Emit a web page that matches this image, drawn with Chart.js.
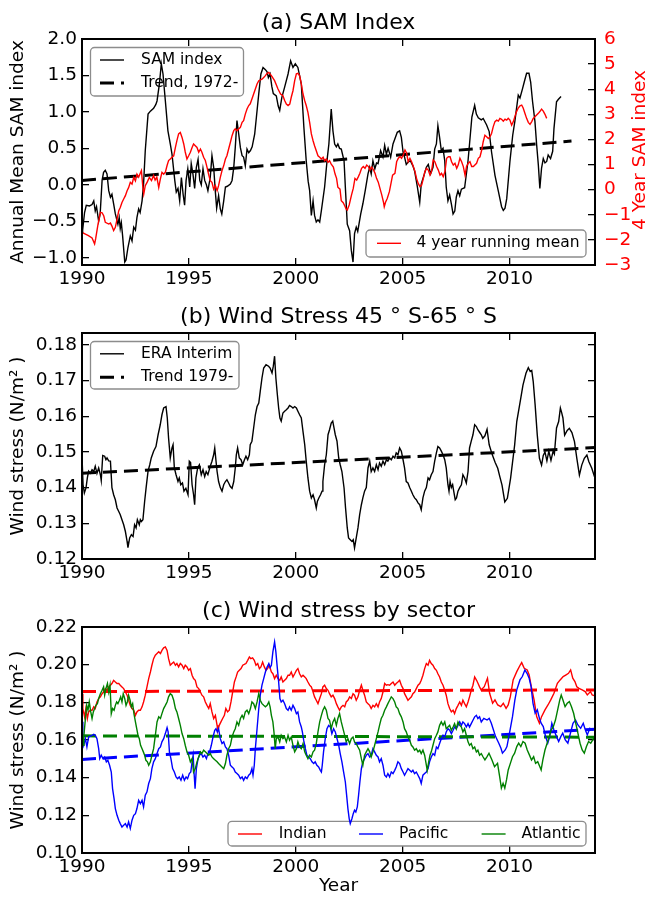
<!DOCTYPE html>
<html><head><meta charset="utf-8">
<script src="https://cdn.jsdelivr.net/npm/chart.js@4/dist/chart.umd.min.js"></script>
<style>
html,body{margin:0;padding:0;background:#fff;}
body{width:647px;height:898px;position:relative;overflow:hidden;}
canvas{position:absolute;left:0;}
</style></head><body>
<canvas id="ca" width="647" height="294" style="top:0px"></canvas>
<canvas id="cb" width="647" height="294" style="top:294px"></canvas>
<canvas id="cc" width="647" height="310" style="top:588px"></canvas>
<script>
// ---------------- DATA ----------------
const xTickYears = [1990, 1995, 2000, 2005, 2010];
const samLeftTicks = [-1.0, -0.5, 0.0, 0.5, 1.0, 1.5, 2.0];
const samRightTicks = [-3, -2, -1, 0, 1, 2, 3, 4, 5, 6];
const windTicks = [0.12, 0.13, 0.14, 0.15, 0.16, 0.17, 0.18];
const sectorTicks = [0.10, 0.12, 0.14, 0.16, 0.18, 0.20, 0.22];

// (a) SAM index, annual mean (year, value)
const samIndex = [[1990.00,-0.65],[1990.03,-0.62],[1990.12,-0.38],[1990.2,-0.28],[1990.35,-0.29],[1990.47,-0.27],[1990.55,-0.22],[1990.62,-0.36],[1990.68,-0.30],[1990.78,-0.50],[1990.85,-0.40],[1990.94,0.06],[1991.01,0.17],[1991.09,0.20],[1991.17,0.15],[1991.25,-0.08],[1991.33,-0.17],[1991.4,-0.13],[1991.48,-0.26],[1991.56,-0.40],[1991.68,-0.54],[1991.74,-0.45],[1991.79,-0.60],[1991.84,-0.52],[1991.9,-0.70],[1992.0,-1.06],[1992.06,-1.03],[1992.15,-0.86],[1992.26,-0.70],[1992.34,-0.77],[1992.42,-0.58],[1992.5,-0.62],[1992.57,-0.45],[1992.65,-0.33],[1992.72,-0.38],[1992.81,-0.22],[1992.88,0.01],[1992.96,0.47],[1993.09,0.97],[1993.2,1.01],[1993.35,1.05],[1993.45,1.10],[1993.51,1.15],[1993.62,1.38],[1993.71,1.66],[1993.79,1.52],[1993.9,1.15],[1994.02,0.74],[1994.13,0.56],[1994.21,0.42],[1994.34,0.06],[1994.41,-0.10],[1994.49,-0.05],[1994.57,-0.22],[1994.65,0.10],[1994.73,-0.13],[1994.8,-0.28],[1994.87,0.06],[1994.95,0.22],[1995.04,-0.03],[1995.11,0.29],[1995.19,0.15],[1995.27,-0.05],[1995.35,0.24],[1995.43,0.35],[1995.51,0.06],[1995.58,0.00],[1995.66,0.22],[1995.74,0.06],[1995.82,0.00],[1995.89,-0.08],[1996.0,0.10],[1996.08,0.40],[1996.16,0.24],[1996.24,-0.10],[1996.3,-0.32],[1996.39,-0.15],[1996.47,-0.33],[1996.54,-0.40],[1996.63,-0.22],[1996.71,-0.03],[1996.8,-0.02],[1996.94,0.01],[1997.02,0.06],[1997.1,0.24],[1997.17,0.51],[1997.25,0.88],[1997.33,0.70],[1997.41,0.51],[1997.49,0.40],[1997.56,0.38],[1997.64,0.26],[1997.72,0.49],[1997.8,0.44],[1997.88,0.47],[1997.96,0.52],[1998.08,0.70],[1998.16,0.93],[1998.27,1.25],[1998.37,1.52],[1998.47,1.61],[1998.58,1.58],[1998.66,1.55],[1998.72,1.47],[1998.8,1.52],[1998.88,1.35],[1998.95,1.25],[1999.09,1.22],[1999.18,1.08],[1999.25,1.02],[1999.35,1.20],[1999.48,1.34],[1999.64,1.52],[1999.76,1.70],[1999.87,1.61],[1999.98,1.66],[2000.10,1.61],[2000.26,1.38],[2000.38,0.79],[2000.49,0.33],[2000.58,0.05],[2000.65,-0.08],[2000.73,-0.42],[2000.81,-0.22],[2000.88,-0.42],[2000.96,-0.51],[2001.04,-0.48],[2001.12,-0.51],[2001.2,-0.35],[2001.35,-0.03],[2001.48,0.38],[2001.55,0.56],[2001.66,1.04],[2001.74,0.74],[2001.82,0.56],[2001.9,0.52],[2001.97,0.56],[2002.05,0.50],[2002.13,0.49],[2002.26,0.33],[2002.32,-0.03],[2002.41,-0.54],[2002.52,-0.63],[2002.6,-0.90],[2002.68,-1.06],[2002.75,-0.67],[2002.83,-0.58],[2002.9,-0.64],[2003.04,-0.40],[2003.14,-0.26],[2003.25,-0.08],[2003.38,0.15],[2003.46,0.24],[2003.53,0.15],[2003.61,0.33],[2003.7,0.22],[2003.78,0.30],[2003.85,0.29],[2003.97,0.47],[2004.08,0.38],[2004.16,0.54],[2004.24,0.42],[2004.32,0.50],[2004.44,0.38],[2004.55,0.56],[2004.66,0.65],[2004.75,0.72],[2004.86,0.74],[2004.94,0.65],[2005.02,0.45],[2005.09,0.38],[2005.17,0.28],[2005.25,0.31],[2005.36,0.33],[2005.48,0.26],[2005.56,0.19],[2005.69,-0.03],[2005.8,-0.24],[2005.87,0.01],[2006.0,0.13],[2006.11,0.24],[2006.2,0.28],[2006.31,0.15],[2006.42,0.24],[2006.5,0.49],[2006.58,0.56],[2006.65,0.81],[2006.73,0.65],[2006.81,0.47],[2006.89,0.50],[2006.97,0.33],[2007.04,-0.03],[2007.12,-0.22],[2007.2,-0.14],[2007.28,-0.26],[2007.36,-0.40],[2007.44,-0.36],[2007.51,-0.17],[2007.59,-0.08],[2007.67,-0.15],[2007.75,-0.06],[2007.9,-0.04],[2008.06,0.33],[2008.13,0.56],[2008.24,0.93],[2008.37,1.09],[2008.45,0.97],[2008.54,0.92],[2008.68,0.89],[2008.77,0.91],[2008.93,0.82],[2009.05,0.73],[2009.16,0.45],[2009.32,0.13],[2009.48,-0.09],[2009.63,-0.30],[2009.71,-0.35],[2009.79,-0.32],[2009.87,-0.19],[2010.02,0.32],[2010.15,0.68],[2010.25,0.87],[2010.41,1.23],[2010.49,1.19],[2010.61,1.32],[2010.69,1.41],[2010.8,1.53],[2010.91,1.53],[2010.99,1.41],[2011.08,1.14],[2011.19,0.87],[2011.27,0.55],[2011.35,0.27],[2011.42,-0.05],[2011.5,0.23],[2011.58,0.36],[2011.66,0.30],[2011.74,0.32],[2011.81,0.41],[2011.92,0.36],[2012.02,0.46],[2012.08,0.77],[2012.2,1.14],[2012.28,1.17],[2012.41,1.21]];

// (a) 4 year running mean (right axis units)
const samRunningMean = [[1990.0,-1.70],[1990.16,-1.77],[1990.3,-1.83],[1990.47,-1.92],[1990.59,-2.16],[1990.64,-1.95],[1990.75,-1.37],[1990.86,-0.90],[1990.94,-0.92],[1991.02,-1.05],[1991.09,-1.30],[1991.25,-1.37],[1991.33,-1.33],[1991.40,-1.45],[1991.48,-1.63],[1991.56,-1.50],[1991.64,-1.17],[1991.72,-0.84],[1991.79,-0.71],[1991.87,-0.51],[1991.95,-0.37],[1992.03,-0.24],[1992.11,-0.04],[1992.18,0.08],[1992.26,0.29],[1992.34,0.22],[1992.42,0.49],[1992.5,0.35],[1992.57,0.62],[1992.65,0.50],[1992.78,0.76],[1992.84,0.16],[1992.89,-0.17],[1992.96,0.16],[1993.05,0.30],[1993.15,0.49],[1993.25,0.36],[1993.35,0.56],[1993.42,0.38],[1993.5,0.50],[1993.59,0.09],[1993.66,0.40],[1993.74,0.69],[1993.82,0.62],[1993.9,0.70],[1993.98,0.96],[1994.05,1.16],[1994.13,1.22],[1994.21,1.29],[1994.29,1.35],[1994.37,1.68],[1994.44,1.95],[1994.52,2.22],[1994.6,2.28],[1994.68,2.08],[1994.76,1.82],[1994.83,1.50],[1994.91,1.22],[1994.99,1.35],[1995.07,1.49],[1995.15,1.68],[1995.22,1.82],[1995.3,1.75],[1995.38,1.68],[1995.46,1.49],[1995.54,1.62],[1995.61,1.49],[1995.69,1.29],[1995.77,1.16],[1995.85,0.89],[1995.92,0.62],[1996.0,0.36],[1996.08,0.29],[1996.16,0.02],[1996.24,0.16],[1996.32,-0.04],[1996.39,0.16],[1996.47,0.49],[1996.55,0.76],[1996.63,0.96],[1996.71,1.22],[1996.78,1.35],[1996.86,1.62],[1996.94,1.88],[1997.02,2.15],[1997.1,2.35],[1997.17,2.42],[1997.25,2.35],[1997.33,2.42],[1997.41,2.48],[1997.49,2.68],[1997.56,2.75],[1997.64,3.01],[1997.72,3.21],[1997.8,3.35],[1997.87,3.42],[1997.95,3.61],[1998.03,3.81],[1998.11,4.01],[1998.19,4.21],[1998.27,4.34],[1998.35,4.37],[1998.42,4.40],[1998.5,4.47],[1998.58,4.54],[1998.66,4.63],[1998.74,4.67],[1998.86,4.54],[1999.01,4.34],[1999.17,4.01],[1999.29,3.81],[1999.4,3.74],[1999.48,3.55],[1999.56,3.41],[1999.64,3.35],[1999.72,3.41],[1999.79,3.68],[1999.87,3.94],[1999.95,4.34],[2000.03,4.61],[2000.1,4.63],[2000.18,4.54],[2000.26,4.21],[2000.34,3.81],[2000.42,3.54],[2000.49,3.35],[2000.57,3.08],[2000.65,2.68],[2000.73,2.22],[2000.81,1.95],[2000.88,1.75],[2000.96,1.55],[2001.04,1.35],[2001.12,1.29],[2001.2,1.22],[2001.28,1.29],[2001.35,1.15],[2001.43,1.22],[2001.51,1.09],[2001.58,1.15],[2001.66,1.02],[2001.76,0.90],[2001.84,0.62],[2001.91,0.45],[2001.97,0.10],[2002.07,0.02],[2002.13,-0.44],[2002.22,-0.52],[2002.29,-0.64],[2002.36,-0.77],[2002.41,-0.81],[2002.5,-0.61],[2002.61,-0.21],[2002.69,0.05],[2002.77,0.45],[2002.85,0.38],[2002.93,0.52],[2003.0,0.65],[2003.08,0.85],[2003.16,0.92],[2003.24,0.85],[2003.32,0.98],[2003.4,0.92],[2003.47,0.78],[2003.55,0.90],[2003.63,0.80],[2003.71,0.65],[2003.78,0.45],[2003.86,0.30],[2003.94,0.05],[2004.02,-0.20],[2004.1,-0.48],[2004.14,-0.68],[2004.2,-0.50],[2004.28,-0.35],[2004.38,-0.08],[2004.44,0.18],[2004.53,0.58],[2004.64,0.65],[2004.72,1.11],[2004.8,1.25],[2004.88,1.32],[2004.95,1.25],[2005.03,1.38],[2005.11,1.58],[2005.19,1.45],[2005.26,1.11],[2005.34,1.25],[2005.42,1.11],[2005.5,0.92],[2005.58,0.72],[2005.65,0.45],[2005.73,0.25],[2005.81,0.12],[2005.89,0.18],[2005.97,0.45],[2006.04,0.72],[2006.12,0.85],[2006.2,0.78],[2006.28,0.58],[2006.35,0.72],[2006.43,1.18],[2006.51,1.11],[2006.59,0.92],[2006.67,0.78],[2006.75,0.58],[2006.82,0.65],[2006.9,0.52],[2006.98,0.72],[2007.06,1.25],[2007.14,1.31],[2007.22,1.31],[2007.29,1.11],[2007.37,0.98],[2007.45,1.05],[2007.53,0.85],[2007.6,0.98],[2007.68,1.25],[2007.76,1.11],[2007.84,0.92],[2007.92,0.58],[2007.99,0.92],[2008.07,1.05],[2008.15,1.11],[2008.23,0.92],[2008.31,0.92],[2008.38,0.98],[2008.46,1.05],[2008.54,1.25],[2008.62,1.31],[2008.7,1.58],[2008.77,1.91],[2008.85,2.17],[2008.93,2.11],[2009.01,2.04],[2009.09,2.11],[2009.16,2.24],[2009.24,2.51],[2009.32,2.71],[2009.4,2.77],[2009.48,2.73],[2009.55,2.84],[2009.63,2.80],[2009.71,2.73],[2009.79,2.81],[2009.87,2.77],[2009.94,2.84],[2010.02,2.77],[2010.1,2.57],[2010.18,2.71],[2010.25,2.91],[2010.33,3.11],[2010.41,3.25],[2010.49,3.34],[2010.57,3.37],[2010.64,3.25],[2010.72,3.04],[2010.8,2.84],[2010.88,2.68],[2010.96,2.60],[2011.04,2.71],[2011.11,2.84],[2011.19,2.90],[2011.27,2.97],[2011.35,3.04],[2011.42,3.11],[2011.5,3.21],[2011.58,3.13],[2011.66,3.00],[2011.74,2.84]];

// (a) trend 1972- (end points)
const samTrend = [[1990.0,0.06],[2012.9,0.60]];

// (b) ERA Interim wind stress 45S-65S
const eraInterim = [[1990.0,0.1488],[1990.05,0.1408],[1990.11,0.1385],[1990.19,0.1400],[1990.25,0.1427],[1990.31,0.1446],[1990.39,0.1440],[1990.47,0.1450],[1990.55,0.1445],[1990.62,0.1460],[1990.7,0.1440],[1990.78,0.1455],[1990.86,0.1436],[1990.9,0.1420],[1990.97,0.1490],[1991.06,0.1488],[1991.12,0.1478],[1991.17,0.1483],[1991.25,0.1475],[1991.33,0.1474],[1991.4,0.1400],[1991.48,0.1380],[1991.56,0.1366],[1991.64,0.1343],[1991.72,0.1333],[1991.79,0.1324],[1991.87,0.1310],[1991.95,0.1296],[1992.03,0.1277],[1992.11,0.1249],[1992.15,0.1232],[1992.23,0.1259],[1992.31,0.1268],[1992.39,0.1263],[1992.46,0.1296],[1992.53,0.1287],[1992.59,0.1310],[1992.68,0.1296],[1992.73,0.1310],[1992.78,0.1305],[1992.85,0.1310],[1992.93,0.1361],[1993.0,0.1400],[1993.09,0.1446],[1993.17,0.1464],[1993.24,0.1483],[1993.35,0.1502],[1993.46,0.1515],[1993.56,0.1548],[1993.66,0.1576],[1993.74,0.1604],[1993.82,0.1623],[1993.93,0.1627],[1993.99,0.1595],[1994.05,0.1539],[1994.13,0.1483],[1994.21,0.1511],[1994.26,0.1520],[1994.32,0.1455],[1994.4,0.1436],[1994.49,0.1417],[1994.55,0.1427],[1994.62,0.1408],[1994.7,0.1413],[1994.77,0.1390],[1994.86,0.1398],[1994.96,0.1380],[1995.02,0.1474],[1995.08,0.1470],[1995.15,0.1408],[1995.22,0.1380],[1995.27,0.1352],[1995.33,0.1427],[1995.41,0.1455],[1995.49,0.1464],[1995.58,0.1436],[1995.66,0.1450],[1995.74,0.1431],[1995.81,0.1445],[1995.89,0.1436],[1996.0,0.1460],[1996.08,0.1474],[1996.16,0.1492],[1996.21,0.1511],[1996.27,0.1474],[1996.32,0.1445],[1996.39,0.1417],[1996.47,0.1400],[1996.55,0.1390],[1996.63,0.1408],[1996.71,0.1417],[1996.78,0.1422],[1996.86,0.1413],[1996.94,0.1403],[1997.02,0.1398],[1997.1,0.1417],[1997.17,0.1455],[1997.22,0.1492],[1997.28,0.1511],[1997.36,0.1483],[1997.44,0.1478],[1997.52,0.1464],[1997.6,0.1478],[1997.67,0.1488],[1997.75,0.1478],[1997.83,0.1492],[1997.87,0.1520],[1997.95,0.1530],[1998.03,0.1567],[1998.11,0.1604],[1998.19,0.1627],[1998.27,0.1637],[1998.34,0.1670],[1998.42,0.1707],[1998.5,0.1735],[1998.61,0.1744],[1998.73,0.1740],[1998.8,0.1735],[1998.89,0.1721],[1998.95,0.1740],[1999.01,0.1768],[1999.07,0.1707],[1999.14,0.1660],[1999.2,0.1623],[1999.26,0.1595],[1999.32,0.1586],[1999.4,0.1609],[1999.48,0.1614],[1999.56,0.1618],[1999.64,0.1623],[1999.71,0.1630],[1999.79,0.1627],[1999.87,0.1623],[1999.95,0.1627],[2000.03,0.1623],[2000.1,0.1614],[2000.18,0.1604],[2000.26,0.1595],[2000.34,0.1557],[2000.42,0.1520],[2000.49,0.1474],[2000.57,0.1427],[2000.65,0.1390],[2000.73,0.1371],[2000.81,0.1380],[2000.88,0.1366],[2000.96,0.1343],[2001.01,0.1361],[2001.08,0.1371],[2001.16,0.1380],[2001.23,0.1390],[2001.27,0.1417],[2001.35,0.1464],[2001.43,0.1492],[2001.51,0.1548],[2001.58,0.1562],[2001.66,0.1581],[2001.73,0.1586],[2001.79,0.1567],[2001.85,0.1548],[2001.93,0.1530],[2002.01,0.1483],[2002.08,0.1464],[2002.16,0.1445],[2002.26,0.1399],[2002.33,0.1343],[2002.41,0.1287],[2002.47,0.1259],[2002.55,0.1254],[2002.63,0.1249],[2002.69,0.1254],[2002.75,0.1231],[2002.83,0.1259],[2002.91,0.1287],[2002.99,0.1324],[2003.07,0.1352],[2003.14,0.1371],[2003.22,0.1390],[2003.3,0.1400],[2003.38,0.1455],[2003.46,0.1474],[2003.53,0.1445],[2003.61,0.1455],[2003.69,0.1445],[2003.77,0.1464],[2003.85,0.1450],[2003.92,0.1469],[2004.0,0.1460],[2004.08,0.1474],[2004.16,0.1464],[2004.24,0.1478],[2004.31,0.1474],[2004.39,0.1483],[2004.47,0.1478],[2004.55,0.1488],[2004.63,0.1483],[2004.7,0.1497],[2004.78,0.1492],[2004.86,0.1511],[2004.94,0.1502],[2005.02,0.1478],[2005.09,0.1455],[2005.17,0.1417],[2005.25,0.1413],[2005.33,0.1400],[2005.41,0.1390],[2005.48,0.1380],[2005.56,0.1371],[2005.64,0.1366],[2005.72,0.1357],[2005.8,0.1352],[2005.87,0.1338],[2005.95,0.1371],[2006.03,0.1390],[2006.11,0.1400],[2006.19,0.1427],[2006.26,0.1422],[2006.34,0.1436],[2006.42,0.1445],[2006.5,0.1474],[2006.58,0.1497],[2006.65,0.1515],[2006.73,0.1511],[2006.81,0.1502],[2006.89,0.1492],[2006.97,0.1478],[2007.04,0.1455],[2007.12,0.1408],[2007.17,0.1390],[2007.22,0.1417],[2007.28,0.1400],[2007.34,0.1408],[2007.39,0.1390],[2007.46,0.1366],[2007.52,0.1371],[2007.59,0.1390],[2007.67,0.1400],[2007.75,0.1408],[2007.82,0.1436],[2007.9,0.1427],[2007.98,0.1413],[2008.06,0.1445],[2008.13,0.1511],[2008.21,0.1530],[2008.29,0.1548],[2008.37,0.1576],[2008.45,0.1571],[2008.52,0.1562],[2008.6,0.1555],[2008.68,0.1548],[2008.75,0.1538],[2008.85,0.1545],[2008.95,0.1563],[2009.05,0.1520],[2009.2,0.1491],[2009.33,0.1470],[2009.45,0.1454],[2009.55,0.1430],[2009.65,0.1407],[2009.78,0.1360],[2009.9,0.1370],[2010.05,0.1426],[2010.24,0.1519],[2010.34,0.1585],[2010.5,0.1641],[2010.63,0.1687],[2010.77,0.1720],[2010.88,0.1736],[2010.97,0.1725],[2011.04,0.1728],[2011.11,0.1697],[2011.2,0.1631],[2011.3,0.1547],[2011.4,0.1482],[2011.5,0.1463],[2011.58,0.1490],[2011.66,0.1500],[2011.75,0.1475],[2011.84,0.1502],[2011.94,0.1476],[2012.04,0.1502],[2012.1,0.1494],[2012.2,0.1567],[2012.3,0.1585],[2012.38,0.1623],[2012.44,0.1610],[2012.5,0.1595],[2012.58,0.1547],[2012.7,0.1560],[2012.8,0.1566],[2012.92,0.1554],[2013.04,0.1529],[2013.15,0.1482],[2013.27,0.1435],[2013.38,0.1463],[2013.5,0.1482],[2013.62,0.1491],[2013.71,0.1473],[2013.85,0.1454],[2014.0,0.1426]];
const eraTrend = [[1990.0,0.1440],[2014.0,0.1512]];

// (c) wind stress by sector
const indianStress = [[1990.0,.1846],[1990.04,.1767],[1990.12,.1723],[1990.18,.1767],[1990.25,.1714],[1990.31,.1749],[1990.39,.1758],[1990.47,.1758],[1990.55,.1776],[1990.62,.1767],[1990.7,.1802],[1990.78,.1820],[1990.86,.1829],[1990.94,.1846],[1991.01,.1855],[1991.09,.1873],[1991.17,.1864],[1991.25,.1882],[1991.33,.1891],[1991.4,.1900],[1991.48,.1917],[1991.56,.1908],[1991.64,.1900],[1991.72,.1900],[1991.79,.1891],[1991.87,.1882],[1991.95,.1873],[1992.03,.1855],[1992.11,.1838],[1992.18,.1811],[1992.26,.1784],[1992.34,.1767],[1992.42,.1758],[1992.5,.1731],[1992.57,.1749],[1992.65,.1758],[1992.73,.1758],[1992.81,.1776],[1992.88,.1802],[1992.96,.1838],[1993.04,.1882],[1993.12,.1926],[1993.2,.1961],[1993.27,.1997],[1993.35,.2032],[1993.43,.2050],[1993.51,.2059],[1993.59,.2068],[1993.67,.2059],[1993.74,.2076],[1993.82,.2089],[1993.9,.2094],[1993.98,.2076],[1994.05,.2032],[1994.13,.1997],[1994.21,.2006],[1994.29,.2014],[1994.37,.1997],[1994.44,.2006],[1994.52,.1988],[1994.6,.2006],[1994.68,.1997],[1994.76,.1979],[1994.83,.1997],[1994.91,.1988],[1994.99,.1970],[1995.07,.1979],[1995.15,.1944],[1995.22,.1926],[1995.3,.1917],[1995.38,.1882],[1995.46,.1873],[1995.54,.1855],[1995.61,.1838],[1995.69,.1829],[1995.77,.1802],[1995.85,.1784],[1995.93,.1767],[1996.0,.1793],[1996.08,.1749],[1996.16,.1714],[1996.24,.1731],[1996.32,.1678],[1996.36,.1652],[1996.42,.1678],[1996.5,.1696],[1996.58,.1714],[1996.66,.1731],[1996.73,.1767],[1996.81,.1749],[1996.89,.1758],[1996.97,.1802],[1997.05,.1855],[1997.13,.1908],[1997.21,.1935],[1997.28,.1961],[1997.36,.1970],[1997.44,.1979],[1997.52,.1997],[1997.59,.2001],[1997.67,.2006],[1997.75,.2023],[1997.83,.2041],[1997.9,.2032],[1997.98,.2036],[1998.06,.2023],[1998.14,.1997],[1998.22,.2006],[1998.3,.1979],[1998.37,.1988],[1998.45,.2014],[1998.53,.1988],[1998.61,.1970],[1998.68,.1979],[1998.76,.1997],[1998.86,.1961],[1998.93,.1952],[1999.01,.1926],[1999.09,.1944],[1999.17,.1926],[1999.25,.1917],[1999.32,.1935],[1999.4,.1908],[1999.48,.1917],[1999.56,.1926],[1999.64,.1944],[1999.71,.1944],[1999.79,.1961],[1999.87,.1935],[1999.95,.1952],[2000.03,.1970],[2000.1,.1979],[2000.18,.1952],[2000.26,.1935],[2000.34,.1944],[2000.42,.1935],[2000.49,.1926],[2000.57,.1908],[2000.65,.1891],[2000.73,.1882],[2000.81,.1855],[2000.88,.1829],[2000.96,.1811],[2001.04,.1793],[2001.12,.1820],[2001.2,.1846],[2001.27,.1882],[2001.35,.1891],[2001.43,.1873],[2001.51,.1864],[2001.58,.1846],[2001.66,.1829],[2001.74,.1838],[2001.82,.1820],[2001.9,.1793],[2001.97,.1776],[2002.05,.1758],[2002.13,.1776],[2002.21,.1784],[2002.29,.1776],[2002.36,.1802],[2002.44,.1811],[2002.52,.1829],[2002.6,.1820],[2002.68,.1846],[2002.75,.1838],[2002.83,.1811],[2002.91,.1829],[2002.99,.1864],[2003.07,.1891],[2003.14,.1864],[2003.22,.1838],[2003.3,.1802],[2003.38,.1793],[2003.46,.1784],[2003.53,.1767],[2003.61,.1784],[2003.69,.1776],[2003.77,.1793],[2003.85,.1776],[2003.92,.1802],[2004.0,.1820],[2004.08,.1855],[2004.16,.1900],[2004.24,.1891],[2004.31,.1894],[2004.39,.1891],[2004.47,.1900],[2004.55,.1908],[2004.63,.1891],[2004.7,.1900],[2004.78,.1908],[2004.86,.1917],[2004.94,.1891],[2005.02,.1873],[2005.09,.1846],[2005.17,.1829],[2005.25,.1811],[2005.33,.1820],[2005.41,.1829],[2005.48,.1846],[2005.56,.1855],[2005.64,.1873],[2005.72,.1891],[2005.8,.1900],[2005.87,.1917],[2005.95,.1944],[2006.03,.1979],[2006.11,.2006],[2006.19,.1997],[2006.26,.2023],[2006.34,.2006],[2006.42,.1997],[2006.5,.1979],[2006.58,.1970],[2006.65,.1952],[2006.73,.1935],[2006.81,.1908],[2006.89,.1891],[2006.97,.1864],[2007.04,.1838],[2007.12,.1793],[2007.2,.1767],[2007.28,.1749],[2007.36,.1758],[2007.43,.1740],[2007.51,.1767],[2007.59,.1784],[2007.67,.1802],[2007.75,.1784],[2007.82,.1811],[2007.9,.1793],[2007.98,.1776],[2008.06,.1802],[2008.13,.1829],[2008.21,.1864],[2008.29,.1891],[2008.37,.1935],[2008.46,.1917],[2008.53,.1900],[2008.6,.1882],[2008.67,.1866],[2008.82,.1883],[2008.97,.1928],[2009.07,.1848],[2009.21,.1795],[2009.32,.1813],[2009.45,.1786],[2009.59,.1777],[2009.71,.1795],[2009.84,.1768],[2009.94,.1786],[2010.04,.1830],[2010.17,.1919],[2010.34,.1963],[2010.5,.1998],[2010.57,.2011],[2010.69,.1981],[2010.83,.1972],[2010.92,.1945],[2011.02,.1883],[2011.15,.1813],[2011.27,.1724],[2011.4,.1689],[2011.5,.1724],[2011.66,.1760],[2011.8,.1786],[2011.93,.1813],[2012.08,.1848],[2012.24,.1901],[2012.37,.1919],[2012.51,.1937],[2012.63,.1945],[2012.76,.1954],[2012.86,.1972],[2012.96,.1928],[2013.06,.1910],[2013.15,.1883],[2013.25,.1874],[2013.4,.1866],[2013.54,.1857],[2013.64,.1839],[2013.79,.1857],[2013.87,.1839],[2014.0,.1834]];
const pacificStress = [[1990.0,.1697],[1990.04,.1600],[1990.08,.1572],[1990.16,.1607],[1990.23,.1563],[1990.31,.1616],[1990.39,.1620],[1990.47,.1625],[1990.55,.1630],[1990.62,.1625],[1990.7,.1607],[1990.78,.1554],[1990.83,.1501],[1990.9,.1519],[1990.98,.1501],[1991.06,.1510],[1991.14,.1484],[1991.21,.1492],[1991.29,.1466],[1991.37,.1430],[1991.43,.1342],[1991.5,.1289],[1991.56,.1236],[1991.64,.1200],[1991.72,.1174],[1991.79,.1156],[1991.87,.1138],[1991.95,.1147],[1992.03,.1156],[1992.11,.1138],[1992.18,.1165],[1992.26,.1130],[1992.34,.1174],[1992.42,.1200],[1992.5,.1209],[1992.57,.1236],[1992.65,.1280],[1992.73,.1262],[1992.81,.1280],[1992.88,.1245],[1992.96,.1307],[1993.04,.1325],[1993.12,.1369],[1993.2,.1395],[1993.27,.1448],[1993.35,.1484],[1993.43,.1501],[1993.51,.1528],[1993.59,.1554],[1993.67,.1563],[1993.74,.1590],[1993.82,.1607],[1993.9,.1634],[1993.98,.1665],[1994.03,.1643],[1994.09,.1537],[1994.16,.1501],[1994.24,.1448],[1994.32,.1430],[1994.4,.1404],[1994.47,.1395],[1994.55,.1404],[1994.63,.1386],[1994.71,.1413],[1994.79,.1386],[1994.87,.1404],[1994.94,.1395],[1995.02,.1422],[1995.09,.1430],[1995.15,.1484],[1995.2,.1519],[1995.24,.1430],[1995.29,.1342],[1995.35,.1448],[1995.43,.1501],[1995.5,.1519],[1995.58,.1528],[1995.66,.1510],[1995.74,.1519],[1995.82,.1501],[1995.89,.1528],[1995.97,.1537],[1996.05,.1572],[1996.13,.1616],[1996.21,.1652],[1996.27,.1660],[1996.33,.1643],[1996.39,.1660],[1996.47,.1607],[1996.55,.1581],[1996.63,.1590],[1996.71,.1563],[1996.78,.1554],[1996.86,.1519],[1996.94,.1466],[1997.02,.1457],[1997.1,.1448],[1997.17,.1430],[1997.25,.1422],[1997.33,.1413],[1997.41,.1395],[1997.49,.1404],[1997.56,.1386],[1997.64,.1404],[1997.72,.1395],[1997.8,.1413],[1997.88,.1422],[1997.95,.1448],[1998.0,.1413],[1998.06,.1466],[1998.11,.1554],[1998.19,.1660],[1998.27,.1767],[1998.34,.1838],[1998.42,.1891],[1998.5,.1926],[1998.58,.1961],[1998.66,.1988],[1998.74,.2006],[1998.8,.1985],[1998.86,.1997],[1998.93,.2068],[1999.01,.2121],[1999.07,.2068],[1999.14,.1979],[1999.2,.1908],[1999.26,.1820],[1999.32,.1802],[1999.4,.1811],[1999.48,.1793],[1999.56,.1767],[1999.64,.1758],[1999.71,.1776],[1999.79,.1758],[1999.87,.1784],[1999.95,.1767],[2000.03,.1740],[2000.1,.1749],[2000.18,.1696],[2000.26,.1669],[2000.31,.1643],[2000.37,.1599],[2000.45,.1554],[2000.52,.1519],[2000.6,.1510],[2000.68,.1501],[2000.76,.1484],[2000.84,.1475],[2000.91,.1484],[2000.99,.1466],[2001.07,.1457],[2001.15,.1439],[2001.2,.1430],[2001.24,.1466],[2001.3,.1537],[2001.38,.1607],[2001.46,.1660],[2001.54,.1678],[2001.62,.1669],[2001.69,.1634],[2001.77,.1660],[2001.85,.1643],[2001.93,.1607],[2002.01,.1572],[2002.08,.1528],[2002.16,.1484],[2002.24,.1430],[2002.32,.1377],[2002.38,.1307],[2002.44,.1236],[2002.5,.1183],[2002.55,.1156],[2002.63,.1183],[2002.69,.1209],[2002.75,.1227],[2002.81,.1218],[2002.88,.1245],[2002.94,.1307],[2003.0,.1377],[2003.07,.1448],[2003.14,.1484],[2003.22,.1501],[2003.3,.1519],[2003.38,.1528],[2003.46,.1510],[2003.53,.1519],[2003.61,.1554],[2003.69,.1537],[2003.77,.1519],[2003.85,.1510],[2003.92,.1484],[2004.0,.1501],[2004.08,.1466],[2004.16,.1413],[2004.24,.1404],[2004.31,.1422],[2004.39,.1404],[2004.47,.1430],[2004.55,.1422],[2004.63,.1439],[2004.7,.1457],[2004.78,.1484],[2004.86,.1475],[2004.94,.1448],[2005.02,.1430],[2005.09,.1413],[2005.17,.1430],[2005.25,.1448],[2005.33,.1439],[2005.41,.1430],[2005.48,.1439],[2005.56,.1422],[2005.64,.1430],[2005.72,.1413],[2005.8,.1395],[2005.87,.1369],[2005.95,.1413],[2006.03,.1422],[2006.11,.1430],[2006.19,.1448],[2006.26,.1484],[2006.34,.1510],[2006.42,.1528],[2006.5,.1519],[2006.58,.1563],[2006.65,.1554],[2006.73,.1581],[2006.81,.1607],[2006.89,.1625],[2006.97,.1616],[2007.04,.1643],[2007.12,.1660],[2007.2,.1652],[2007.28,.1634],[2007.36,.1652],[2007.43,.1669],[2007.51,.1660],[2007.59,.1678],[2007.67,.1696],[2007.75,.1678],[2007.82,.1696],[2007.9,.1687],[2007.98,.1669],[2008.06,.1687],[2008.13,.1669],[2008.21,.1687],[2008.29,.1705],[2008.37,.1723],[2008.45,.1731],[2008.52,.1714],[2008.6,.1723],[2008.68,.1696],[2008.8,.1715],[2008.95,.1706],[2009.05,.1715],[2009.15,.1689],[2009.25,.1653],[2009.35,.1618],[2009.5,.1583],[2009.6,.1556],[2009.67,.1530],[2009.8,.1547],[2009.88,.1565],[2010.0,.1636],[2010.14,.1724],[2010.25,.1812],[2010.34,.1866],[2010.49,.1919],[2010.6,.1937],[2010.72,.1972],[2010.82,.1954],[2010.92,.1928],[2011.01,.1883],[2011.1,.1795],[2011.2,.1742],[2011.3,.1760],[2011.4,.1715],[2011.48,.1689],[2011.58,.1671],[2011.69,.1618],[2011.79,.1583],[2011.88,.1618],[2011.98,.1689],[2012.08,.1653],[2012.2,.1618],[2012.3,.1592],[2012.4,.1618],[2012.49,.1636],[2012.61,.1600],[2012.73,.1583],[2012.85,.1636],[2012.97,.1689],[2013.09,.1706],[2013.2,.1680],[2013.33,.1662],[2013.45,.1689],[2013.55,.1653],[2013.64,.1627],[2013.76,.1662],[2013.88,.1653],[2014.0,.1662]];
const atlanticStress = [[1990.0,.1660],[1990.05,.1572],[1990.09,.1625],[1990.16,.1714],[1990.22,.1784],[1990.28,.1758],[1990.34,.1802],[1990.41,.1749],[1990.47,.1714],[1990.53,.1749],[1990.59,.1767],[1990.65,.1784],[1990.72,.1793],[1990.78,.1820],[1990.86,.1846],[1990.94,.1864],[1991.01,.1882],[1991.06,.1838],[1991.12,.1873],[1991.19,.1900],[1991.25,.1855],[1991.31,.1891],[1991.37,.1740],[1991.43,.1767],[1991.5,.1758],[1991.56,.1784],[1991.62,.1802],[1991.68,.1793],[1991.75,.1811],[1991.81,.1829],[1991.87,.1802],[1991.93,.1846],[1992.0,.1820],[1992.06,.1784],[1992.12,.1802],[1992.18,.1838],[1992.25,.1811],[1992.31,.1776],[1992.37,.1793],[1992.43,.1740],[1992.5,.1696],[1992.56,.1660],[1992.62,.1625],[1992.68,.1607],[1992.74,.1572],[1992.81,.1554],[1992.87,.1537],[1992.93,.1519],[1992.99,.1492],[1993.06,.1484],[1993.12,.1466],[1993.2,.1484],[1993.27,.1519],[1993.35,.1554],[1993.43,.1625],[1993.51,.1696],[1993.59,.1723],[1993.67,.1714],[1993.74,.1740],[1993.82,.1767],[1993.9,.1784],[1993.98,.1802],[1994.05,.1829],[1994.13,.1846],[1994.21,.1838],[1994.29,.1811],[1994.37,.1767],[1994.44,.1749],[1994.52,.1714],[1994.6,.1678],[1994.68,.1634],[1994.76,.1607],[1994.83,.1572],[1994.91,.1537],[1994.99,.1519],[1995.07,.1484],[1995.15,.1501],[1995.22,.1430],[1995.3,.1448],[1995.38,.1484],[1995.46,.1510],[1995.54,.1537],[1995.61,.1528],[1995.69,.1546],[1995.77,.1537],[1995.85,.1528],[1995.93,.1519],[1996.0,.1528],[1996.08,.1510],[1996.16,.1501],[1996.24,.1492],[1996.32,.1484],[1996.39,.1475],[1996.47,.1466],[1996.55,.1457],[1996.63,.1448],[1996.71,.1475],[1996.78,.1519],[1996.86,.1554],[1996.94,.1572],[1997.02,.1616],[1997.1,.1643],[1997.17,.1660],[1997.25,.1696],[1997.33,.1678],[1997.41,.1714],[1997.49,.1731],[1997.56,.1714],[1997.64,.1749],[1997.72,.1758],[1997.8,.1740],[1997.88,.1767],[1997.95,.1802],[1998.03,.1793],[1998.11,.1767],[1998.19,.1802],[1998.27,.1846],[1998.34,.1811],[1998.42,.1793],[1998.5,.1784],[1998.58,.1776],[1998.66,.1784],[1998.74,.1802],[1998.8,.1776],[1998.86,.1731],[1998.93,.1696],[1998.98,.1643],[1999.04,.1554],[1999.09,.1607],[1999.17,.1616],[1999.25,.1590],[1999.32,.1625],[1999.4,.1607],[1999.48,.1616],[1999.56,.1590],[1999.64,.1625],[1999.71,.1599],[1999.79,.1616],[1999.87,.1572],[1999.95,.1537],[2000.03,.1554],[2000.1,.1590],[2000.18,.1563],[2000.26,.1554],[2000.34,.1581],[2000.42,.1537],[2000.49,.1519],[2000.57,.1501],[2000.65,.1519],[2000.73,.1510],[2000.81,.1537],[2000.88,.1546],[2000.96,.1581],[2001.04,.1643],[2001.12,.1696],[2001.2,.1731],[2001.27,.1758],[2001.35,.1776],[2001.43,.1758],[2001.51,.1714],[2001.58,.1705],[2001.66,.1660],[2001.74,.1696],[2001.82,.1714],[2001.9,.1678],[2001.97,.1714],[2002.05,.1740],[2002.13,.1696],[2002.21,.1660],[2002.29,.1625],[2002.36,.1590],[2002.44,.1607],[2002.52,.1581],[2002.6,.1607],[2002.68,.1616],[2002.75,.1590],[2002.83,.1581],[2002.91,.1563],[2002.99,.1546],[2003.07,.1501],[2003.14,.1466],[2003.22,.1519],[2003.3,.1537],[2003.38,.1554],[2003.46,.1537],[2003.53,.1510],[2003.61,.1537],[2003.69,.1572],[2003.77,.1607],[2003.85,.1643],[2003.92,.1678],[2004.0,.1714],[2004.08,.1731],[2004.16,.1758],[2004.24,.1776],[2004.31,.1793],[2004.39,.1811],[2004.47,.1829],[2004.55,.1820],[2004.63,.1802],[2004.7,.1776],[2004.78,.1767],[2004.86,.1740],[2004.94,.1723],[2005.02,.1696],[2005.09,.1660],[2005.17,.1643],[2005.25,.1616],[2005.33,.1599],[2005.41,.1572],[2005.48,.1563],[2005.56,.1546],[2005.64,.1554],[2005.72,.1537],[2005.8,.1546],[2005.87,.1528],[2005.95,.1546],[2006.03,.1519],[2006.11,.1466],[2006.15,.1439],[2006.22,.1484],[2006.28,.1519],[2006.34,.1537],[2006.42,.1572],[2006.5,.1607],[2006.58,.1625],[2006.65,.1643],[2006.73,.1678],[2006.81,.1696],[2006.89,.1678],[2006.97,.1696],[2007.04,.1660],[2007.12,.1669],[2007.2,.1678],[2007.28,.1652],[2007.36,.1669],[2007.43,.1687],[2007.51,.1660],[2007.59,.1696],[2007.67,.1678],[2007.75,.1669],[2007.82,.1643],[2007.9,.1660],[2007.98,.1625],[2008.06,.1590],[2008.13,.1572],[2008.21,.1581],[2008.29,.1554],[2008.37,.1563],[2008.45,.1537],[2008.52,.1546],[2008.6,.1519],[2008.68,.1528],[2008.76,.1511],[2008.85,.1494],[2008.95,.1512],[2009.04,.1530],[2009.18,.1494],[2009.3,.1458],[2009.44,.1476],[2009.54,.1405],[2009.62,.1344],[2009.7,.1370],[2009.78,.1344],[2009.86,.1388],[2009.94,.1441],[2010.04,.1476],[2010.14,.1511],[2010.24,.1530],[2010.34,.1565],[2010.43,.1583],[2010.53,.1565],[2010.63,.1592],[2010.73,.1583],[2010.83,.1547],[2010.93,.1521],[2011.03,.1494],[2011.13,.1511],[2011.22,.1476],[2011.32,.1485],[2011.42,.1458],[2011.48,.1441],[2011.56,.1494],[2011.66,.1547],[2011.76,.1583],[2011.86,.1618],[2011.95,.1653],[2012.05,.1671],[2012.15,.1706],[2012.25,.1759],[2012.35,.1812],[2012.42,.1839],[2012.5,.1812],[2012.6,.1777],[2012.7,.1795],[2012.8,.1804],[2012.9,.1777],[2013.0,.1742],[2013.1,.1689],[2013.2,.1636],[2013.3,.1583],[2013.4,.1547],[2013.5,.1530],[2013.6,.1565],[2013.7,.1592],[2013.8,.1583],[2013.94,.1609],[2014.0,.1618]];
const indianTrend = [[1990.0,0.1857],[2014.0,0.1866]];
const pacificTrend = [[1990.0,0.1497],[2014.0,0.1657]];
const atlanticTrend = [[1990.0,0.1622],[2014.0,0.1615]];

// ---------------- RENDERING ----------------
const FONT = "'DejaVu Sans', 'Liberation Sans', sans-serif";
Chart.defaults.font.family = FONT;
Chart.defaults.color = '#000';
const TICK_FONT = 18.5, TITLE_FONT = 22, LEGEND_FONT = 15.5;
const DATA_LW = 1.4;
const DASH = [14, 7];
const pts = arr => arr.map(([x, y]) => ({x, y}));
const minus = s => s.replace('-', '\u2212');
const fmt = dec => v => minus(Number(v).toFixed(dec));

function tickGrid() {
  return {drawOnChartArea: false, drawTicks: true, tickLength: -7, color: '#000', lineWidth: 1.3};
}
function xScale(position, labels, h, title) {
  return {
    type: 'linear', position, min: 1990, max: 2014, bounds: 'data',
    afterBuildTicks: s => { s.ticks = xTickYears.map(v => ({value: v})); },
    afterFit: s => { s.height = h; },
    grid: tickGrid(), border: {display: false},
    ticks: {display: labels, font: {size: TICK_FONT}, color: '#000', padding: 10,
            maxRotation: 0, minRotation: 0, autoSkip: false, callback: v => String(v)},
    title: title ? {display: true, text: title, font: {size: TICK_FONT}, color: '#000', padding: {top: 0, bottom: 1}}
                 : {display: false}
  };
}
function yScale(position, min, max, tickVals, dec, labels, w, color, title, pad) {
  return {
    type: 'linear', position, min, max, bounds: 'data',
    afterBuildTicks: s => { s.ticks = tickVals.map(v => ({value: v})); },
    afterFit: s => { s.width = w; },
    grid: tickGrid(), border: {display: false},
    ticks: {display: labels, font: {size: TICK_FONT}, color, padding: pad, autoSkip: false, callback: fmt(dec)},
    title: title ? {display: true, text: title, font: {size: TICK_FONT}, color: '#000', padding: {top: 7.4, bottom: 0}}
                 : {display: false}
  };
}
function line(label, data, color, width, dash, yAxisID) {
  return {label, data: pts(data), borderColor: color, backgroundColor: color, borderWidth: width,
          borderDash: dash || [], pointRadius: 0, tension: 0, fill: false, yAxisID: yAxisID || 'y', xAxisID: 'x'};
}

const framePlugin = {
  id: 'frame',
  afterDatasetsDraw(chart) {
    const {ctx, chartArea: a} = chart;
    ctx.save(); ctx.lineWidth = 2; ctx.strokeStyle = '#000';
    ctx.strokeRect(a.left, a.top, a.right - a.left, a.bottom - a.top);
    ctx.restore();
  }
};
function legendPlugin(boxes) {
  return {
    id: 'boxLegend',
    beforeDatasetsDraw(chart) {
      const ctx = chart.ctx;
      boxes.forEach(b => {
        ctx.save();
        ctx.beginPath();
        ctx.roundRect(b.x, b.y, b.w, b.h, 4);
        ctx.fillStyle = '#fff'; ctx.fill();
        ctx.lineWidth = 1.3; ctx.strokeStyle = '#8c8c8c'; ctx.stroke();
        b.items.forEach(it => {
          const ds = chart.data.datasets[it.ds];
          ctx.beginPath();
          ctx.setLineDash(ds.borderDash || []);
          ctx.lineWidth = ds.borderWidth; ctx.strokeStyle = ds.borderColor;
          ctx.moveTo(it.x0, it.y); ctx.lineTo(it.x0 + 24, it.y); ctx.stroke();
          ctx.setLineDash([]);
          ctx.fillStyle = '#000';
          ctx.font = LEGEND_FONT + 'px ' + FONT;
          ctx.textAlign = 'left'; ctx.textBaseline = 'middle';
          ctx.fillText(ds.label, it.tx, it.y);
        });
        ctx.restore();
      });
    }
  };
}
const rightTitlePlugin = {
  id: 'rightTitle',
  afterDraw(chart) {
    const ctx = chart.ctx;
    ctx.save();
    ctx.translate(644.5, 150);
    ctx.rotate(-Math.PI / 2);
    ctx.font = TICK_FONT + 'px ' + FONT;
    ctx.fillStyle = '#ff0000'; ctx.textAlign = 'center'; ctx.textBaseline = 'alphabetic';
    ctx.fillText('4 Year SAM index', 0, 0);
    ctx.restore();
  }
};
function titleOpts(text) {
  return {display: true, text, font: {size: TITLE_FONT, weight: 'normal'}, color: '#000',
          padding: {top: 10, bottom: 2.6}, fullSize: false};
}
const common = {responsive: false, animation: false, devicePixelRatio: 1, events: []};

// (a) SAM Index
new Chart(document.getElementById('ca'), {
  type: 'line',
  data: {datasets: [
    line('4 year running mean', samRunningMean, '#ff0000', DATA_LW, null, 'yR'),
    line('SAM index', samIndex, '#000000', DATA_LW),
    line('Trend, 1972-', samTrend, '#000000', 3, DASH)
  ]},
  options: Object.assign({}, common, {
    layout: {padding: {left: 0, right: 0, top: 0, bottom: 0}, autoPadding: false},
    plugins: {legend: {display: false}, tooltip: {enabled: false}, title: titleOpts('(a) SAM Index')},
    scales: {
      x: xScale('bottom', true, 29),
      xTop: xScale('top', false, 0),
      y: yScale('left', -1.1, 2.0, samLeftTicks, 1, true, 82, '#000', 'Annual Mean SAM index', 12),
      yR: yScale('right', -3, 6, samRightTicks, 0, true, 52, '#ff0000', null, 16)
    }
  }),
  plugins: [legendPlugin([
    {x: 90.5, y: 47.5, w: 153, h: 48.5, items: [{ds: 1, x0: 100, tx: 141, y: 60}, {ds: 2, x0: 100, tx: 141, y: 83}]},
    {x: 366, y: 230, w: 220, h: 27, items: [{ds: 0, x0: 377, tx: 416.5, y: 243.3}]}
  ]), framePlugin, rightTitlePlugin]
});

// (b) Wind stress 45S-65S
new Chart(document.getElementById('cb'), {
  type: 'line',
  data: {datasets: [
    line('ERA Interim', eraInterim, '#000000', DATA_LW),
    line('Trend 1979-', eraTrend, '#000000', 3, DASH)
  ]},
  options: Object.assign({}, common, {
    layout: {padding: {left: 0, right: 52, top: 0, bottom: 0}, autoPadding: false},
    plugins: {legend: {display: false}, tooltip: {enabled: false},
              title: titleOpts('(b) Wind Stress 45 \u00B0 S-65 \u00B0 S')},
    scales: {
      x: xScale('bottom', true, 29),
      xTop: xScale('top', false, 0),
      y: yScale('left', 0.12, 0.1833, windTicks, 2, true, 82, '#000', 'Wind stress (N/m\u00B2 )', 12),
      yR: yScale('right', 0.12, 0.1833, windTicks, 2, false, 0, '#000', null, 0)
    }
  }),
  plugins: [legendPlugin([
    {x: 90.5, y: 47.5, w: 148.5, h: 47.5, items: [{ds: 0, x0: 100, tx: 141, y: 59.8}, {ds: 1, x0: 100, tx: 141, y: 83.2}]}
  ]), framePlugin]
});

// (c) Wind stress by sector
new Chart(document.getElementById('cc'), {
  type: 'line',
  data: {datasets: [
    line('Atlantic', atlanticStress, '#008000', DATA_LW),
    line('Pacific', pacificStress, '#0000ff', DATA_LW),
    line('Indian', indianStress, '#ff0000', DATA_LW),
    line('Atlantic trend', atlanticTrend, '#008000', 3, DASH),
    line('Pacific trend', pacificTrend, '#0000ff', 3, DASH),
    line('Indian trend', indianTrend, '#ff0000', 3, DASH)
  ]},
  options: Object.assign({}, common, {
    layout: {padding: {left: 0, right: 52, top: 0, bottom: 0}, autoPadding: false},
    plugins: {legend: {display: false}, tooltip: {enabled: false}, title: titleOpts('(c) Wind stress by sector')},
    scales: {
      x: xScale('bottom', true, 45, 'Year'),
      xTop: xScale('top', false, 0),
      y: yScale('left', 0.10, 0.22, sectorTicks, 2, true, 82, '#000', 'Wind stress (N/m\u00B2 )', 12),
      yR: yScale('right', 0.10, 0.22, sectorTicks, 2, false, 0, '#000', null, 0)
    }
  }),
  plugins: [legendPlugin([
    {x: 228, y: 233.3, w: 358, h: 24.7, items: [
      {ds: 2, x0: 238, tx: 278.8, y: 246}, {ds: 1, x0: 359, tx: 399, y: 246}, {ds: 0, x0: 481.6, tx: 521.6, y: 246}
    ]}
  ]), framePlugin]
});
</script>
</body></html>
